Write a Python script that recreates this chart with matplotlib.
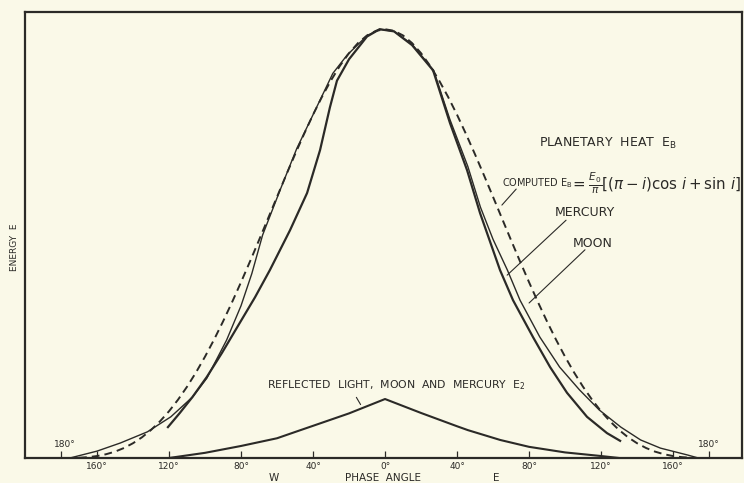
from matplotlib import pyplot as plt

# data (phase angle in degrees, W negative / E positive; energy relative to peak)
computed_deg = [-170, -165, -160, -155, -150, -145, -140, -135, -130, -125, -120, -115, -110, -105,
                -100, -95, -90, -85, -80, -75, -70, -65, -60, -55, -50, -45, -40, -35, -30, -25,
                -20, -15, -10, -5, 0, 5, 10, 15, 20, 25, 30, 35, 40, 45, 50, 55, 60, 65, 70, 75,
                80, 85, 90, 95, 100, 105, 110, 115, 120, 125, 130, 135, 140, 145, 150, 155, 160,
                165, 170]
computed_e = [0.0005, 0.0019, 0.0045, 0.0087, 0.0148, 0.0233, 0.0344, 0.0483, 0.0653, 0.0855,
              0.1090, 0.1359, 0.1661, 0.1996, 0.2363, 0.2759, 0.3183, 0.3631, 0.4100, 0.4584,
              0.5081, 0.5585, 0.6090, 0.6591, 0.7081, 0.7554, 0.8006, 0.8425, 0.8808, 0.9150,
              0.9442, 0.9678, 0.9855, 0.9963, 1.0, 0.9963, 0.9855, 0.9678, 0.9442, 0.9150,
              0.8808, 0.8425, 0.8006, 0.7554, 0.7081, 0.6591, 0.6090, 0.5585, 0.5081, 0.4584,
              0.4100, 0.3631, 0.3183, 0.2759, 0.2363, 0.1996, 0.1661, 0.1359, 0.1090, 0.0855,
              0.0653, 0.0483, 0.0344, 0.0233, 0.0148, 0.0087, 0.0045, 0.0019, 0.0005]

moon_deg = [-175, -160, -147, -132, -119, -107, -99, -88, -80, -74, -68, -58, -49, -38, -29,
            -21, -10, -3, 5, 15, 27, 36, 46, 53, 60, 68, 75, 86, 97, 108, 119, 131, 142, 153,
            168, 174]
moon_e = [0.0, 0.016, 0.035, 0.061, 0.096, 0.142, 0.186, 0.275, 0.355, 0.43, 0.52, 0.628,
          0.722, 0.818, 0.897, 0.94, 0.985, 1.0, 0.995, 0.965, 0.904, 0.79, 0.68, 0.585, 0.51,
          0.438, 0.368, 0.282, 0.212, 0.159, 0.112, 0.072, 0.042, 0.023, 0.007, 0.0]

mercury_deg = [-120.6, -114, -107, -99, -90.6, -81.7, -72.2, -64, -52.8, -43.3, -36.1, -30.6,
               -26.7, -20, -10, -3, 5, 15, 26.7, 36.1, 45.6, 52.8, 63.9, 71.1, 82.2, 91.7,
               101.1, 112.2, 123.3, 130.6]
mercury_e = [0.072, 0.105, 0.142, 0.189, 0.245, 0.308, 0.375, 0.438, 0.531, 0.618, 0.718, 0.818,
             0.88, 0.93, 0.983, 1.0, 0.995, 0.963, 0.904, 0.781, 0.671, 0.571, 0.438, 0.368,
             0.282, 0.212, 0.152, 0.096, 0.058, 0.040]

reflected_deg = [-120, -100, -80, -60, -49, -40, -20, 0, 20, 40, 46, 64, 80, 100, 119, 130]
reflected_e = [0.0, 0.012, 0.028, 0.046, 0.062, 0.075, 0.104, 0.1375, 0.105, 0.074, 0.065,
               0.042, 0.026, 0.013, 0.005, 0.0]

tick_pos = [-180, -160, -120, -80, -40, 0, 40, 80, 120, 160, 180]
tick_lab = ['', '160°', '120°', '80°', '40°', '0°', '40°', '80°', '120°', '160°', '']

ink = '#2b2a27'
paper = '#faf9e8'

fig = plt.figure(figsize=(7.44, 4.83), dpi=100, facecolor=paper)
ax = fig.add_axes([0.0336, 0.0518, 0.9637, 0.9232], facecolor=paper)

ax.plot(computed_deg, computed_e, color=ink, lw=1.4, dashes=(4, 2.6))
ax.plot(moon_deg, moon_e, color=ink, lw=1.0)
ax.plot(mercury_deg, mercury_e, color=ink, lw=1.6)
ax.plot(reflected_deg, reflected_e, color=ink, lw=1.5)

ax.set_xlim(-200, 198.3)
ax.set_ylim(0, 1.04)

for s in ax.spines.values():
    s.set_linewidth(1.6)
    s.set_color(ink)

ax.set_xticks(tick_pos)
ax.set_xticklabels(tick_lab, fontsize=6.5, color=ink)
ax.tick_params(axis='x', direction='in', length=5, width=0.9, color=ink, pad=3)
ax.set_yticks([])

ax.text(-178, 0.02, '180°', fontsize=6.5, color=ink, ha='center', va='bottom')
ax.text(180, 0.02, '180°', fontsize=6.5, color=ink, ha='center', va='bottom')

ax.set_ylabel('ENERGY  E', fontsize=6.5, color=ink)
ax.yaxis.set_label_coords(-0.009, 0.473)
ax.set_xlabel('PHASE  ANGLE', fontsize=7.5, color=ink, labelpad=1)
ax.text(-62, -0.047, 'W', fontsize=7.5, color=ink, ha='center', va='center')
ax.text(62, -0.047, 'E', fontsize=7.5, color=ink, ha='center', va='center')

# annotations
ax.text(124, 0.734, r'PLANETARY  HEAT  $\mathregular{E_B}$', fontsize=9, color=ink,
        ha='center', va='center')
ax.text(65, 0.641, r'COMPUTED $\mathregular{E_B}$', fontsize=7, color=ink, ha='left', va='center')
ax.text(103, 0.641, r'$=\frac{E_0}{\pi}\left[(\pi-i)\cos\,i+\sin\,i\right]$',
        fontsize=10.8, color=ink, ha='left', va='center')
ax.text(111, 0.573, 'MERCURY', fontsize=9, color=ink, ha='center', va='center')
ax.text(115.6, 0.501, 'MOON', fontsize=9, color=ink, ha='center', va='center')
ax.text(6, 0.170, r'REFLECTED  LIGHT,  MOON  AND  MERCURY  $\mathregular{E_2}$', fontsize=7.8,
        color=ink, ha='center', va='center')

ax.annotate('', xy=(63.9, 0.585), xytext=(73.9, 0.632),
            arrowprops=dict(arrowstyle='-', color=ink, lw=0.8))
ax.annotate('', xy=(66.7, 0.422), xytext=(101.7, 0.559),
            arrowprops=dict(arrowstyle='-', color=ink, lw=0.8))
ax.annotate('', xy=(78.9, 0.357), xytext=(112.2, 0.49),
            arrowprops=dict(arrowstyle='-', color=ink, lw=0.8))
ax.annotate('', xy=(-12.8, 0.119), xytext=(-16.7, 0.147),
            arrowprops=dict(arrowstyle='-', color=ink, lw=0.8))

fig.savefig('out.png', dpi=100, facecolor=paper)
